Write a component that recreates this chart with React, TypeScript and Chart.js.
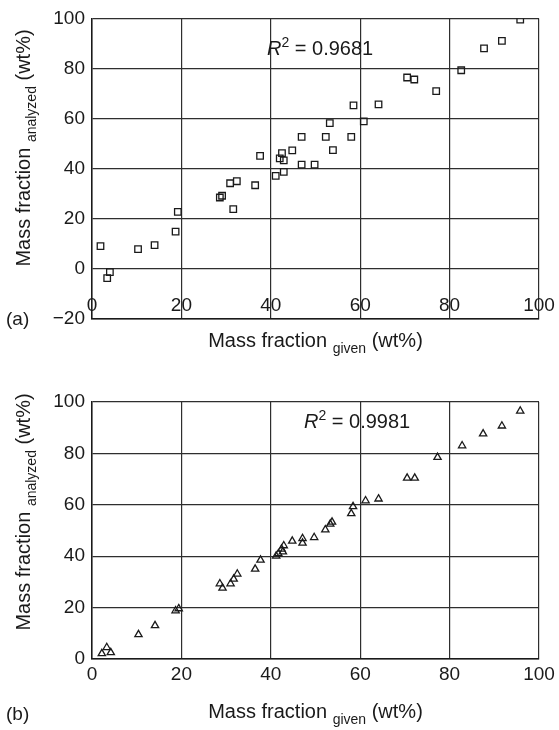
import React, { useEffect, useRef } from "react";
import { Chart, registerables } from "chart.js";
Chart.register(...registerables);

// ---- data (a): squares ----
const squareGiven = [1.9, 4.0, 3.4, 10.3, 14.0, 18.7, 19.2, 28.6, 29.1, 30.9, 32.4, 31.6, 36.5, 37.6, 41.1, 42.0, 42.9, 42.5, 42.9, 44.8, 46.9, 46.9, 52.3, 58.0, 53.9, 49.8, 53.2, 60.8, 58.5, 64.1, 70.5, 72.1, 77.0, 82.6, 87.7, 91.7, 95.8];
const squareAnalyzed = [9.1, -1.3, -3.7, 7.9, 9.5, 14.9, 22.8, 28.5, 29.2, 34.2, 35.0, 23.9, 33.4, 45.1, 37.1, 44.1, 43.3, 46.2, 38.7, 47.3, 41.6, 52.7, 52.7, 52.7, 47.4, 41.6, 58.2, 58.9, 65.3, 65.7, 76.4, 75.6, 71.0, 79.3, 88.0, 91.0, 99.5];

// ---- data (b): triangles ----
const triangleGiven = [2.2, 3.3, 4.2, 10.4, 14.1, 18.7, 19.4, 28.6, 29.2, 31.0, 31.7, 32.5, 36.5, 37.7, 41.2, 41.7, 42.4, 42.9, 42.7, 44.8, 47.1, 47.1, 49.7, 52.2, 53.3, 53.7, 58.0, 58.4, 61.2, 64.1, 70.5, 72.2, 77.3, 82.8, 87.5, 91.7, 95.8];
const triangleAnalyzed = [2.1, 4.5, 2.5, 9.5, 13.0, 18.8, 19.6, 29.3, 27.6, 29.3, 31.1, 33.1, 35.0, 38.5, 40.1, 41.0, 42.8, 44.1, 41.7, 45.9, 46.9, 45.1, 47.3, 50.3, 52.5, 53.3, 56.6, 59.3, 61.6, 62.3, 70.4, 70.4, 78.5, 83.0, 87.6, 90.7, 96.5];

// ---- ticks / labels ----
const givenTicks = [0, 20, 40, 60, 80, 100];
const analyzedTicksA = [-20, 0, 20, 40, 60, 80, 100];
const analyzedTicksB = [0, 20, 40, 60, 80, 100];
const r2A = "0.9681";
const r2B = "0.9981";
const panelA = "(a)";
const panelB = "(b)";

const FONT = "'Liberation Sans', Arial, Helvetica, sans-serif";
const INK = "#1a1a1a";
const GRID = "#2e2e2e";

type Part = { text: string; size: number; dy?: number; italic?: boolean };

function drawParts(ctx: CanvasRenderingContext2D, parts: Part[], x: number, y: number, rot: number, align: "center" | "left") {
  ctx.save();
  ctx.translate(x, y);
  ctx.rotate(rot);
  ctx.textBaseline = "alphabetic";
  ctx.textAlign = "left";
  ctx.fillStyle = INK;
  const fontOf = (p: Part) => `${p.italic ? "italic " : ""}${p.size}px ${FONT}`;
  const widths = parts.map((p) => {
    ctx.font = fontOf(p);
    return ctx.measureText(p.text).width;
  });
  const total = widths.reduce((a, b) => a + b, 0);
  let cx = align === "center" ? -total / 2 : 0;
  parts.forEach((p, i) => {
    ctx.font = fontOf(p);
    ctx.fillText(p.text, cx, p.dy || 0);
    cx += widths[i];
  });
  ctx.restore();
}

type Geo = {
  padTop: number;
  xAxisH: number;
  xTickPad: number;
  innerXTicksY: number | null;
  r2X: number;
  r2Y: number;
  titleXY: number;
  titleYCenter: number;
  panelY: number;
};

function makeChart(
  canvas: HTMLCanvasElement,
  xs: number[],
  ys: number[],
  yTicks: number[],
  style: "rect" | "triangle",
  radius: number,
  r2: string,
  panel: string,
  geo: Geo
) {
  const data = xs.map((x, i) => ({ x, y: ys[i] }));
  const annot = {
    id: "annot" + panel,
    afterDraw(chart: any) {
      const ctx = chart.ctx as CanvasRenderingContext2D;
      const ca = chart.chartArea;
      const midX = (ca.left + ca.right) / 2;
      // x tick labels drawn inside the plot (panel a)
      if (geo.innerXTicksY !== null) {
        const sx = chart.scales.x;
        ctx.save();
        ctx.font = `19px ${FONT}`;
        ctx.fillStyle = INK;
        ctx.textAlign = "center";
        ctx.textBaseline = "middle";
        givenTicks.forEach((v) => {
          ctx.fillText(String(v), sx.getPixelForValue(v), geo.innerXTicksY as number);
        });
        ctx.restore();
      }
      // R^2 annotation
      drawParts(ctx, [
        { text: "R", size: 20, italic: true },
        { text: "2", size: 14, dy: -8 },
        { text: " = " + r2, size: 20 },
      ], geo.r2X, geo.r2Y, 0, "left");
      // x title
      drawParts(ctx, [
        { text: "Mass fraction ", size: 20 },
        { text: "given", size: 14, dy: 6 },
        { text: " (wt%)", size: 20 },
      ], midX, geo.titleXY, 0, "center");
      // y title
      drawParts(ctx, [
        { text: "Mass fraction ", size: 20 },
        { text: "analyzed", size: 14, dy: 6 },
        { text: " (wt%)", size: 20 },
      ], 30, geo.titleYCenter, -Math.PI / 2, "center");
      // panel letter
      drawParts(ctx, [{ text: panel, size: 19 }], 6, geo.panelY, 0, "left");
    },
  };
  return new Chart(canvas, {
    type: "scatter",
    data: {
      datasets: [
        {
          data,
          pointStyle: style,
          pointRadius: radius,
          pointHoverRadius: radius,
          pointBorderWidth: 1.3,
          borderColor: INK,
          backgroundColor: "rgba(0,0,0,0)",
          pointBackgroundColor: "rgba(0,0,0,0)",
        } as any,
      ],
    },
    options: {
      responsive: false,
      animation: false,
      events: [],
      layout: { padding: { top: geo.padTop, right: 20, left: 0, bottom: 0 } },
      plugins: { legend: { display: false }, tooltip: { enabled: false }, title: { display: false } },
      scales: {
        x: {
          type: "linear",
          min: givenTicks[0],
          max: givenTicks[givenTicks.length - 1],
          afterBuildTicks: (s: any) => {
            s.ticks = givenTicks.map((v) => ({ value: v }));
          },
          afterFit: (s: any) => {
            s.height = geo.xAxisH;
          },
          grid: { color: GRID, lineWidth: 1.2, drawTicks: false },
          border: { color: INK, width: 1.5 },
          ticks: {
            display: geo.innerXTicksY === null,
            padding: geo.xTickPad,
            color: INK,
            font: { family: FONT, size: 19 },
            maxRotation: 0,
            autoSkip: false,
            callback: (v: any) => String(v),
          },
        },
        y: {
          type: "linear",
          min: yTicks[0],
          max: yTicks[yTicks.length - 1],
          afterBuildTicks: (s: any) => {
            s.ticks = yTicks.map((v) => ({ value: v }));
          },
          afterFit: (s: any) => {
            s.width = 92;
          },
          grid: { color: GRID, lineWidth: 1.2, drawTicks: false },
          border: { color: INK, width: 1.5 },
          ticks: {
            padding: 7,
            color: INK,
            font: { family: FONT, size: 19 },
            autoSkip: false,
            callback: (v: any) => String(v).replace("-", "\u2212"),
          },
        },
      },
    } as any,
    plugins: [annot],
  });
}

export default function App() {
  const refA = useRef<HTMLCanvasElement>(null);
  const refB = useRef<HTMLCanvasElement>(null);
  useEffect(() => {
    const a = makeChart(refA.current!, squareGiven, squareAnalyzed, analyzedTicksA, "rect", 4.6, r2A, panelA, {
      padTop: 17,
      xAxisH: 46,
      xTickPad: 4,
      innerXTicksY: 306,
      r2X: 267,
      r2Y: 55,
      titleXY: 347,
      titleYCenter: 148,
      panelY: 325,
    });
    const b = makeChart(refB.current!, triangleGiven, triangleAnalyzed, analyzedTicksB, "triangle", 4.2, r2B, panelB, {
      padTop: 37,
      xAxisH: 71,
      xTickPad: 4,
      innerXTicksY: null,
      r2X: 304,
      r2Y: 63,
      titleXY: 353,
      titleYCenter: 147,
      panelY: 355,
    });
    return () => {
      a.destroy();
      b.destroy();
    };
  }, []);
  return (
    <div style={{ position: "absolute", left: 0, top: 0, width: 559, height: 730, background: "#fff" }}>
      <canvas ref={refA} width={559} height={365} style={{ position: "absolute", left: 0, top: 0, display: "block" }} />
      <canvas ref={refB} width={559} height={365} style={{ position: "absolute", left: 0, top: 365, display: "block" }} />
    </div>
  );
}
